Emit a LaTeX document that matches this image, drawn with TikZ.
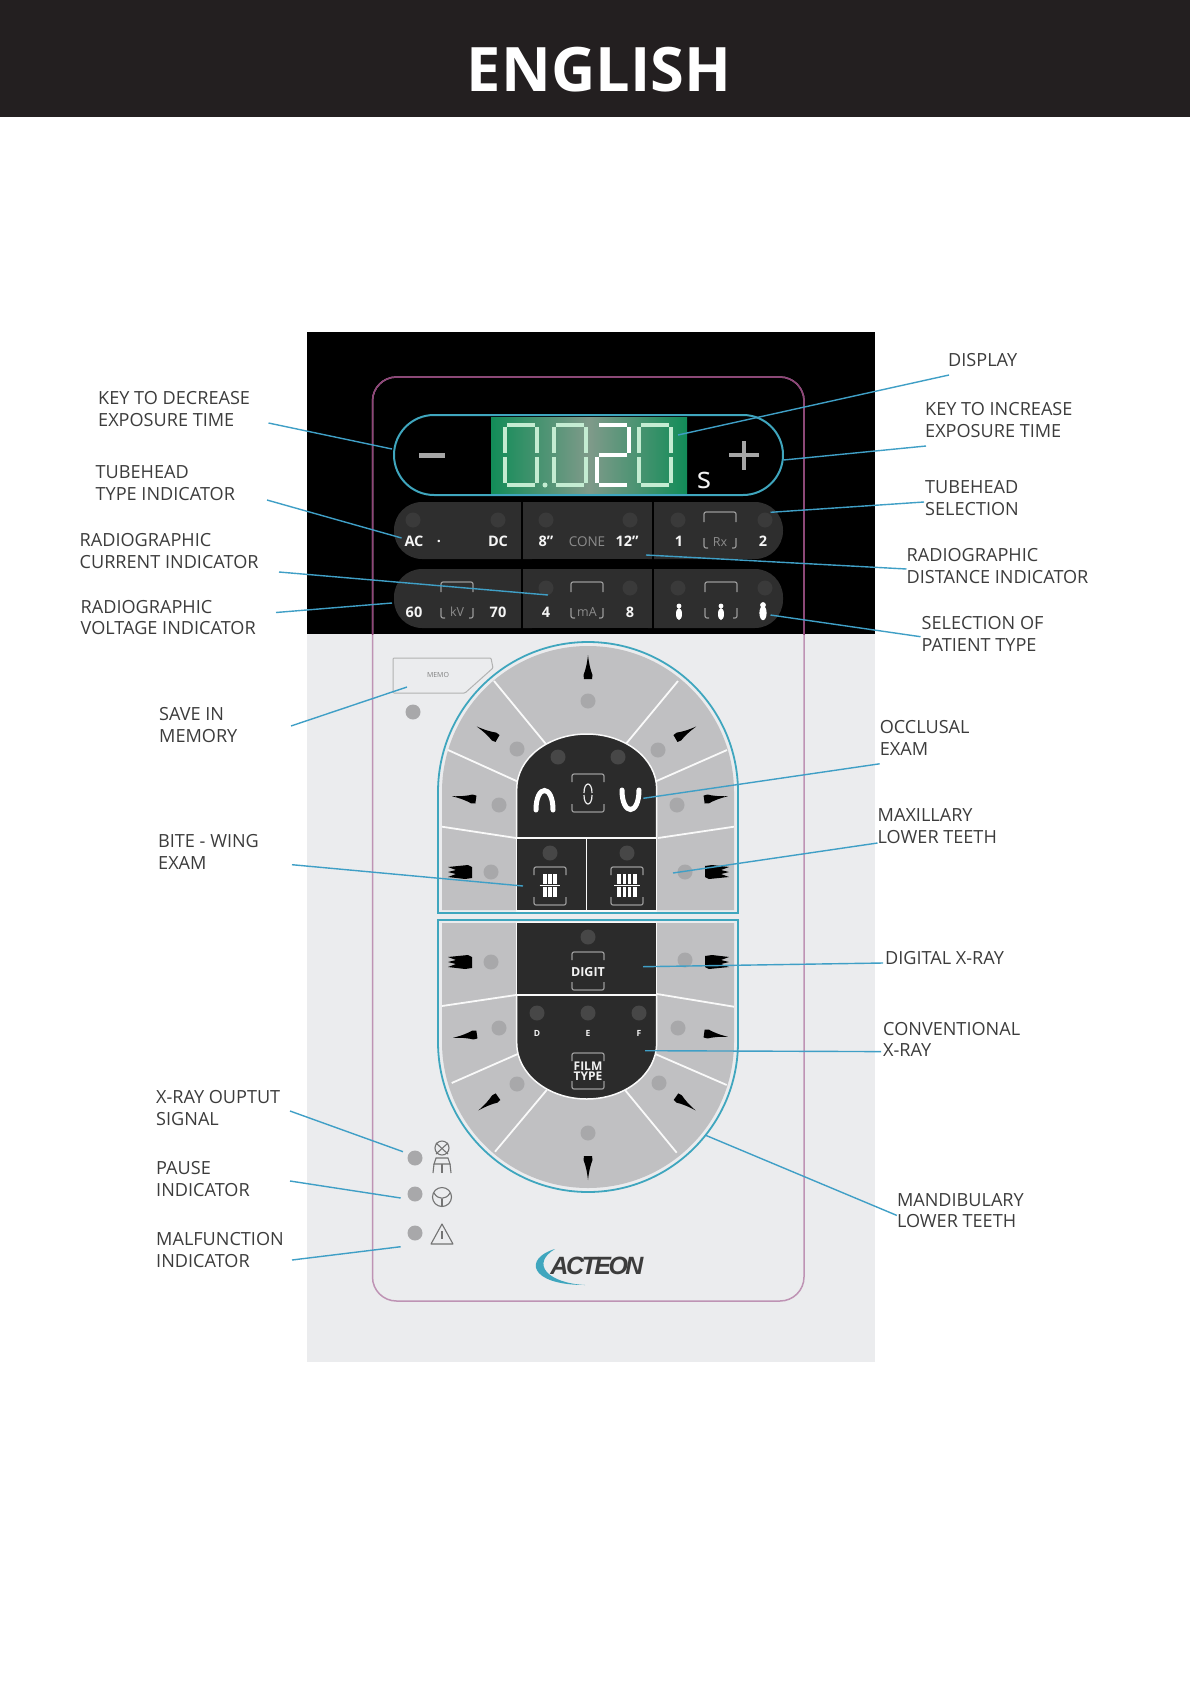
\documentclass[tikz,border=0pt]{standalone}
\usepackage{fontspec}
\setmainfont{Open Sans}
\newfontfamily\logofont{Liberation Sans}
\usepackage{xcolor}
\usetikzlibrary{arrows.meta, positioning, calc}
\definecolor{bandblack}{HTML}{231F20}
\definecolor{panelgray}{HTML}{EBECEE}
\definecolor{keygray}{HTML}{C0C0C2}
\definecolor{keydark}{HTML}{2B2B2B}
\definecolor{stripdark}{HTML}{2E2E2E}
\definecolor{stripdim}{HTML}{3A3A3A}
\definecolor{keydim}{HTML}{474747}
\definecolor{lampgray}{HTML}{A8A8AA}
\definecolor{rimteal}{HTML}{3FA6BE}
\definecolor{leadblue}{HTML}{3F9FC6}
\definecolor{edgeplum}{HTML}{8F4478}
\definecolor{edgepale}{HTML}{BE93B4}
\definecolor{labelgray}{HTML}{3C3C3C}
\definecolor{seggreen}{HTML}{C4ECD2}
\definecolor{screengreen}{HTML}{128C58}
\definecolor{screenmid}{HTML}{7F9A8A}
% top and bottom bracket of a key
\newcommand{\keybox}[4]{
    \draw [bracket] (#1-#3,#2-#4+8) -- (#1-#3,#2-#4) -- (#1+#3,#2-#4) -- (#1+#3,#2-#4+8);
    \draw [bracket] (#1-#3,#2+#4-8) -- (#1-#3,#2+#4) -- (#1+#3,#2+#4) -- (#1+#3,#2+#4-8);
}
\newcommand{\stripbox}[2]{
    \draw [bracket] (#1-16,#2-17) -- (#1-16,#2-27) -- (#1+16,#2-27) -- (#1+16,#2-17);
    \draw [bracket] (#1-16,#2-1) -- (#1-16,#2+9) -- (#1-12,#2+9);
    \draw [bracket] (#1+16,#2-1) -- (#1+16,#2+9) -- (#1+12,#2+9);
}
\newcommand{\toothshape}[3]{
    \fill [black, shift={(#1,#2)}, rotate=#3] (0,-13) .. controls (1,-4) and (2.5,2) .. (4.5,7) -- (4,11) -- (-4,11) -- (-4.5,7) .. controls (-2.5,2) and (-1,-4) .. (0,-13) -- cycle;
}
\newcommand{\molarshape}[3]{
    \fill [black, shift={(#1,#2)}, rotate=#3] (-12,-5) -- (8,-7) -- (12,-5) -- (12,6) -- (5,7) -- (-12,5) -- (-4,2) -- (-12,0) -- (-4,-2) -- cycle;
}
\newcommand{\digitzero}[1]{
    \draw [segment] (#1,425) -- (#1+32,425);
    \draw [segment] (#1+32,425) -- (#1+32,455);
    \draw [segment] (#1+32,455) -- (#1+32,485);
    \draw [segment] (#1,485) -- (#1+32,485);
    \draw [segment] (#1,455) -- (#1,485);
    \draw [segment] (#1,425) -- (#1,455);
}
\newcommand{\digittwo}[1]{
    \draw [segment, white] (#1,425) -- (#1+32,425);
    \draw [segment, white] (#1+32,425) -- (#1+32,455);
    \draw [segment, white] (#1,455) -- (#1+32,455);
    \draw [segment, white] (#1,455) -- (#1,485);
    \draw [segment, white] (#1,485) -- (#1+32,485);
}
\newcommand{\patientshape}[3]{
    \fill [white] (#1,#2-6) circle [radius=#3*0.8pt];
    \fill [white] (#1,#2+2) ellipse [x radius=#3*1pt, y radius=#3*2pt];
}
\newcommand{\teethbars}[3]{
    \foreach \k in {1,...,#3} {
        \fill [white] ({#1+(\k-(#3+1)/2)*5.2-1.8},#2-12) rectangle ++(3.6,10);
        \fill [white] ({#1+(\k-(#3+1)/2)*5.2-1.8},#2+1) rectangle ++(3.6,10);
    }
    \draw [white, line width=0.7pt] ({#1-(#3+1)*2.6},#2-0.5) -- ({#1+(#3+1)*2.6},#2-0.5);
}

\begin{document}
\begin{tikzpicture}[x=1pt, y=-1pt, >=Stealth]
    \tikzstyle{partname} = [inner sep=0pt, anchor=west, align=left, text=labelgray, font=\fontsize{18.1}{21.5}\selectfont]
    \tikzstyle{leader} = [leadblue, line width=1.4pt]
    \tikzstyle{lamp} = [circle, fill=lampgray, minimum size=15pt, inner sep=0pt]
    \tikzstyle{darklamp} = [circle, fill=keydim, minimum size=15pt, inner sep=0pt]
    \tikzstyle{striplamp} = [circle, fill=stripdim, minimum size=15pt, inner sep=0pt]
    \tikzstyle{striptext} = [inner sep=0pt, text=white!92!gray, font=\fontsize{14.5}{15}\selectfont\bfseries]
    \tikzstyle{stripunit} = [inner sep=0pt, text=gray!90, font=\fontsize{12.5}{12.5}\selectfont]
    \tikzstyle{keytext} = [inner sep=0pt, text=white!90!gray, font=\fontsize{8.5}{8.5}\selectfont\bfseries, align=center]
    \tikzstyle{bracket} = [gray!80, line width=1.2pt, rounded corners=2pt]
    \tikzstyle{segment} = [seggreen, line width=4.5pt, shorten >=2pt, shorten <=2pt]
    \tikzstyle{keyrim} = [rimteal, line width=1.8pt]
    \tikzstyle{keyline} = [white!90!keygray, line width=1.8pt]
    \tikzstyle{blackkey} = [fill=keydark, draw=white!90!keygray, line width=1.5pt]
    \tikzstyle{stripkey} = [fill=stripdark]
    \tikzstyle{symbolline} = [gray!90!black, line width=1.1pt]

    \useasboundingbox (0,0) rectangle (1190,1684);
    \fill [white] (0,0) rectangle (1190,1684);

    % header band
    \fill [bandblack] (0,0) rectangle (1190,117);
    \node (title) [inner sep=0pt, text=white, font=\fontsize{61.3}{62}\selectfont\bfseries] at (599,70) {ENGLISH};

    % panel
    \fill [panelgray] (307,634) rectangle (875,1362);
    \fill [black] (307,332) rectangle (875,634);
    \draw [edgepale, line width=1.5pt, rounded corners=24pt] (372.5,377) rectangle (804,1301);
    \begin{scope}
        \clip (307,332) rectangle (875,634);
        \draw [edgeplum, line width=1.5pt, rounded corners=24pt] (372.5,377) rectangle (804,1301);
    \end{scope}

    % display
    \draw [rimteal, line width=2pt, rounded corners=40pt] (394,415) rectangle (783,495);
    \shade [left color=screengreen, right color=screengreen, middle color=screenmid] (491,417) rectangle (687,493);
    \digitzero{505}
    \digitzero{554}
    \digittwo{597}
    \digitzero{639}
    \fill [seggreen] (545,485) circle [radius=2.5pt];
    \node (unit) [inner sep=0pt, text=white!90!gray, font=\fontsize{30}{30}\selectfont] at (704,480) {s};
    \draw [gray!70, line width=5pt] (419,455) -- (445,455);
    \draw [gray!70, line width=4.5pt] (729,455) -- (759,455);
    \draw [gray!70, line width=4.5pt] (744,441) -- (744,470);

    % strips
    \fill [stripkey, rounded corners=28pt] (394,502) rectangle (560,559);
    \fill [stripkey, rounded corners=28pt] (394,569) rectangle (560,628);
    \fill [stripkey, rounded corners=28pt] (620,502) rectangle (783,559);
    \fill [stripkey, rounded corners=28pt] (620,569) rectangle (783,628);
    \fill [stripkey] (480,502) rectangle (700,559);
    \fill [stripkey] (480,569) rectangle (700,628);
    \draw [black, line width=2pt] (522,500) -- (522,630);
    \draw [black, line width=2pt] (653,500) -- (653,630);
    \foreach \i/\x in {1/413,2/498,3/546,4/630,5/678,6/765} {
        \node (stripa\i) [striplamp] at (\x,520) {};
    }
    \foreach \i/\x in {1/546,2/630,3/678,4/765} {
        \node (stripb\i) [striplamp] at (\x,588) {};
    }
    \node (ac) [striptext] at (414,541) {AC};
    \node (dot) [striptext] at (439,541) {.};
    \node (dc) [striptext] at (498,541) {DC};
    \node (eight) [striptext] at (546,541) {8''};
    \node (cone) [stripunit, font=\fontsize{13.5}{13.5}\selectfont] at (587,542) {CONE};
    \node (twelve) [striptext] at (627,541) {12''};
    \node (one) [striptext] at (679,541) {1};
    \node (rx) [stripunit] at (720,542) {Rx};
    \node (two) [striptext] at (763,541) {2};
    \stripbox{720}{539}
    \node (sixty) [striptext] at (414,612) {60};
    \node (kv) [stripunit] at (457,612) {kV};
    \node (seventy) [striptext] at (498,612) {70};
    \node (four) [striptext] at (546,612) {4};
    \node (ma) [stripunit] at (587,612) {mA};
    \node (eightma) [striptext] at (630,612) {8};
    \stripbox{457}{609}
    \stripbox{587}{609}
    \stripbox{721}{609}
    \patientshape{679}{612}{3}
    \patientshape{721}{612}{3}
    \patientshape{763}{611}{3.6}

    % memo key
    \draw [gray!60, fill=panelgray, line width=1pt, rounded corners=1pt] (393,658) -- (491,658) -- (493,668) -- (465,693) -- (393,693) -- cycle;
    \node (memo) [inner sep=0pt, text=gray, font=\fontsize{7}{7}\selectfont] at (438,675) {MEMO};

    % upper keypad
    \draw [keyrim] (438,913) -- (438,792) arc [start angle=180, end angle=0, x radius=150pt, y radius=150pt] -- (738,913) -- cycle;
    \fill [keygray] (442,910) -- (442,792) arc [start angle=180, end angle=0, x radius=146pt, y radius=146pt] -- (734,910) -- cycle;
    \draw [keyline] (494,681) -- (546.7,745);
    \draw [keyline] (448,750) -- (518,781.7);
    \draw [keyline] (442,826.7) -- (516,838);
    \draw [keyline] (678,681) -- (625,745);
    \draw [keyline] (727,750) -- (655,781.7);
    \draw [keyline] (734,826.7) -- (658,838);
    \draw [blackkey] (516.7,838) -- (516.7,789) arc [start angle=180, end angle=0, x radius=70pt, y radius=55pt] -- (656.7,838) -- cycle;
    \draw [blackkey] (516.7,838) rectangle (586.7,911);
    \draw [blackkey] (586.7,838) rectangle (656.7,911);
    \toothshape{588}{668}{0}
    \toothshape{488}{733}{60}
    \toothshape{465}{798}{82}
    \toothshape{685}{733}{-60}
    \toothshape{715}{798}{-82}
    \molarshape{460}{872}{0}
    \molarshape{717}{872}{180}
    \foreach \i/\x/\y in {1/588/701,2/517/749,3/658/750,4/499/805,5/677/805,6/491/872,7/685/872} {
        \node (uplamp\i) [lamp] at (\x,\y) {};
    }
    \foreach \i/\x/\y in {1/558/757,2/618/757,3/550/853,4/627/853} {
        \node (updark\i) [darklamp] at (\x,\y) {};
    }
    \draw [white, line width=5pt, line cap=round] (536,810) .. controls (536,784) and (553,784) .. (553,810);
    \draw [white, line width=5pt, line cap=round] (622,790) .. controls (622,816) and (639,816) .. (639,790);
    \keybox{588}{793}{16}{19}
    \draw [white!85!gray, line width=1.2pt] (584,793) .. controls (584,781) and (592,781) .. (592,793);
    \draw [white!85!gray, line width=1.2pt] (584,795) .. controls (584,807) and (592,807) .. (592,795);
    \keybox{550}{886}{16}{19}
    \keybox{627}{886}{16}{19}
    \teethbars{550}{886}{3}
    \teethbars{627}{886}{4}

    % lower keypad
    \draw [keyrim] (438,920) -- (438,1042) arc [start angle=180, end angle=360, x radius=150pt, y radius=150pt] -- (738,920) -- cycle;
    \fill [keygray] (442,923) -- (442,1042) arc [start angle=180, end angle=360, x radius=146pt, y radius=146pt] -- (734,923) -- cycle;
    \draw [keyline] (442,1006) -- (516,995);
    \draw [keyline] (734,1006.7) -- (657,994);
    \draw [keyline] (451.7,1083) -- (520,1053);
    \draw [keyline] (726.7,1085) -- (653,1053);
    \draw [keyline] (495,1151.7) -- (546.7,1090);
    \draw [keyline] (676.7,1152.7) -- (625,1090);
    \draw [blackkey] (516.7,922.7) rectangle (656.7,995);
    \draw [blackkey] (516.7,995) -- (516.7,1043) arc [start angle=180, end angle=360, x radius=70pt, y radius=56pt] -- (656.7,995) -- cycle;
    \molarshape{460}{962}{0}
    \molarshape{717}{962}{180}
    \toothshape{466}{1036}{98}
    \toothshape{489}{1103}{125}
    \toothshape{588}{1167}{180}
    \toothshape{685}{1103}{-125}
    \toothshape{715}{1035}{-98}
    \foreach \i/\x/\y in {1/491/962,2/685/960,3/499/1028,4/678/1028,5/517/1084,6/659/1083,7/588/1133} {
        \node (lowlamp\i) [lamp] at (\x,\y) {};
    }
    \foreach \i/\x/\y in {1/588/937,2/537/1013,3/588/1013,4/639/1013} {
        \node (lowdark\i) [darklamp] at (\x,\y) {};
    }
    \node (keyd) [keytext] at (537,1033) {D};
    \node (keye) [keytext] at (588,1033) {E};
    \node (keyf) [keytext] at (639,1033) {F};
    \keybox{588}{971}{16}{19}
    \keybox{588}{1071}{16}{18}
    \node (digit) [keytext, font=\fontsize{12.5}{12.5}\selectfont\bfseries] at (588,972) {DIGIT};
    \node (film) [keytext, font=\fontsize{12}{10}\selectfont\bfseries] at (588,1071) {FILM\\TYPE};

    % status lamps and their symbols
    \node (memolamp) [lamp] at (413,712) {};
    \node (xraylamp) [lamp] at (415,1158) {};
    \node (pauselamp) [lamp] at (415,1194) {};
    \node (faultlamp) [lamp] at (415,1233) {};
    \draw [symbolline] (442,1148) circle [radius=7pt];
    \draw [symbolline] (436,1154) -- (448,1143);
    \draw [symbolline] (436,1143) -- (448,1154);
    \draw [symbolline] (436,1158) -- (448,1158) -- (450,1164) -- (434,1164) -- cycle;
    \draw [symbolline] (434,1164) -- (433,1173);
    \draw [symbolline] (442,1164) -- (442,1173);
    \draw [symbolline] (450,1164) -- (451,1173);
    \draw [symbolline] (442,1197) circle [radius=9.5pt];
    \draw [symbolline] (434,1193) .. controls (438,1200) and (446,1200) .. (450,1193);
    \draw [symbolline] (442,1199) -- (442,1206);
    \draw [symbolline, line join=round] (442,1224) -- (453,1244) -- (431,1244) -- cycle;
    \draw [symbolline] (442,1231) -- (442,1239);

    % logo
    \fill [rimteal] (555,1249) .. controls (524,1258) and (528,1285) .. (585,1285) .. controls (548,1283) and (530,1264) .. (555,1249) -- cycle;
    \node (logo) [inner sep=0pt, text=labelgray, font=\logofont\fontsize{25}{26}\selectfont\itshape\bfseries\addfontfeatures{LetterSpace=-10}] at (597,1266) {ACTEON};

    % labels on the left
    \node (keydec) [partname] at (98,409) {KEY TO DECREASE\\EXPOSURE TIME};
    \node (typeind) [partname] at (95.5,483) {TUBEHEAD\\TYPE INDICATOR};
    \node (currind) [partname] at (79.5,551) {RADIOGRAPHIC\\CURRENT INDICATOR};
    \node (voltind) [partname] at (80.5,617.5) {RADIOGRAPHIC\\VOLTAGE INDICATOR};
    \node (savemem) [partname] at (159,725) {SAVE IN\\MEMORY};
    \node (bitewing) [partname] at (158,851.7) {BITE - WING\\EXAM};
    \node (xrayout) [partname] at (156,1108) {X-RAY OUPTUT\\SIGNAL};
    \node (pauseind) [partname] at (156,1179) {PAUSE\\INDICATOR};
    \node (faultind) [partname] at (156,1250) {MALFUNCTION\\INDICATOR};

    % labels on the right
    \node (display) [partname] at (948,360) {DISPLAY};
    \node (keyinc) [partname] at (925,420) {KEY TO INCREASE\\EXPOSURE TIME};
    \node (tubesel) [partname] at (925,498) {TUBEHEAD\\SELECTION};
    \node (distind) [partname] at (906.5,566) {RADIOGRAPHIC\\DISTANCE INDICATOR};
    \node (patient) [partname] at (921.5,633.7) {SELECTION OF\\PATIENT TYPE};
    \node (occlusal) [partname] at (879.6,737.8) {OCCLUSAL\\EXAM};
    \node (maxilla) [partname] at (877.5,826) {MAXILLARY\\LOWER TEETH};
    \node (digital) [partname] at (885,958) {DIGITAL X-RAY};
    \node (convent) [partname] at (883,1039.6) {CONVENTIONAL\\X-RAY};
    \node (mandible) [partname] at (896.8,1210.4) {MANDIBULARY\\LOWER TEETH};

    % leader ends
    \coordinate (keydecend) at (392,449);
    \coordinate (typeindend) at (401.6,538);
    \coordinate (currindend) at (548,595);
    \coordinate (voltindend) at (392,603);
    \coordinate (savememend) at (407,687);
    \coordinate (bitewingend) at (523,886);
    \coordinate (xrayoutend) at (403,1151.7);
    \coordinate (pauseindend) at (400.7,1198);
    \coordinate (faultindend) at (400.7,1246.7);
    \coordinate (displayend) at (678,435);
    \coordinate (keyincend) at (783.6,460);
    \coordinate (tubeselend) at (770.5,512.3);
    \coordinate (distindend) at (646,555);
    \coordinate (patientend) at (770.5,615);
    \coordinate (occlusalend) at (643.3,798.3);
    \coordinate (maxillaend) at (673,873);
    \coordinate (digitalend) at (643,966.7);
    \coordinate (conventend) at (645,1050.7);
    \coordinate (mandibleend) at (705,1135);

    % leaders
    \draw [leader] ([shift={(170.5,14)}]keydec.west) -- (keydecend);
    \draw [leader] ([shift={(171.5,17)}]typeind.west) -- (typeindend);
    \draw [leader] ([shift={(199.5,21)}]currind.west) -- (currindend);
    \draw [leader] ([shift={(195.5,-5)}]voltind.west) -- (voltindend);
    \draw [leader] ([shift={(132,1)}]savemem.west) -- (savememend);
    \draw [leader] ([shift={(134,13)}]bitewing.west) -- (bitewingend);
    \draw [leader] ([shift={(134,3)}]xrayout.west) -- (xrayoutend);
    \draw [leader] ([shift={(134,2)}]pauseind.west) -- (pauseindend);
    \draw [leader] ([shift={(136,10)}]faultind.west) -- (faultindend);
    \draw [leader] ([shift={(1,15)}]display.west) -- (displayend);
    \draw [leader] ([shift={(1,26)}]keyinc.west) -- (keyincend);
    \draw [leader] ([shift={(-1,4)}]tubesel.west) -- (tubeselend);
    \draw [leader] ([shift={(0,3)}]distind.west) -- (distindend);
    \draw [leader] ([shift={(-1,3)}]patient.west) -- (patientend);
    \draw [leader] ([shift={(0,26)}]occlusal.west) -- (occlusalend);
    \draw [leader] ([shift={(0,17)}]maxilla.west) -- (maxillaend);
    \draw [leader] ([shift={(-2,5)}]digital.west) -- (digitalend);
    \draw [leader] ([shift={(-2,12)}]convent.west) -- (conventend);
    \draw [leader] ([shift={(0,5)}]mandible.west) -- (mandibleend);
\end{tikzpicture}
\end{document}
